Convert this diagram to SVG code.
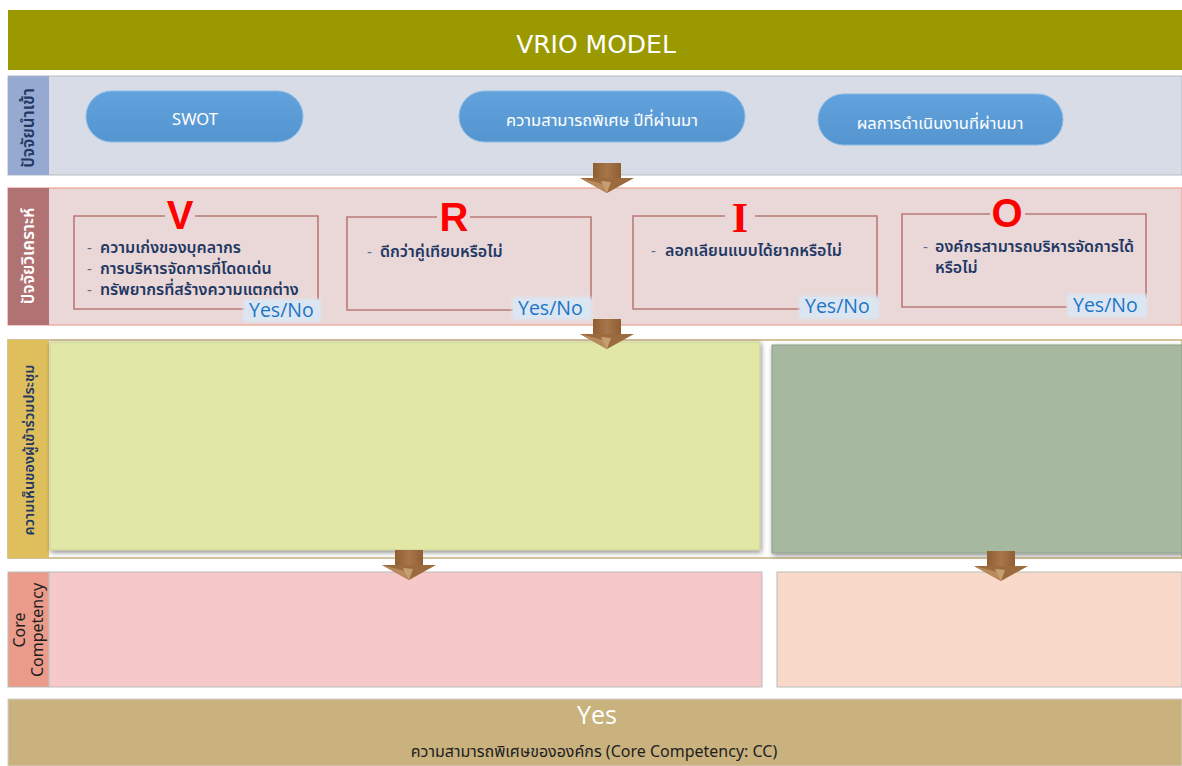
<svg xmlns="http://www.w3.org/2000/svg" width="1182" height="766" viewBox="0 0 1182 766">
  <style>
    .th { font-family: Tahoma, "Noto Sans Thai", "Noto Sans", "DejaVu Sans", sans-serif; }
    .pilltxt { font-size: 16.5px; fill: #FFFFFF; text-anchor: middle; }
    .item { font-size: 16px; fill: #1F3864; font-weight: 600; }
    .dash { font-size: 15px; fill: #5A6A8A; }
    .yn { font-family: "Open Sans", "Liberation Sans", sans-serif; font-size: 19.5px; fill: #1B75C6; }
    .side { text-anchor: middle; font-weight: 600; }
    .box { fill: none; stroke: #B97B78; stroke-width: 1.6; }
    .letter { font-weight: bold; fill: #FF0000; text-anchor: middle; }
    .arrow-body { fill: #9C6B3D; }
  </style>
  <defs>
    <linearGradient id="pillGrad" x1="0" y1="0" x2="0" y2="1">
      <stop offset="0" stop-color="#62A3DD"/>
      <stop offset="0.55" stop-color="#5B9BD5"/>
      <stop offset="1" stop-color="#5495D0"/>
    </linearGradient>
    <linearGradient id="arrowGrad" x1="0" y1="0" x2="1" y2="0">
      <stop offset="0" stop-color="#8E5F33"/>
      <stop offset="0.5" stop-color="#A7754A"/>
      <stop offset="1" stop-color="#8E5F33"/>
    </linearGradient>
    <filter id="soft" x="-5%" y="-5%" width="110%" height="110%">
      <feGaussianBlur in="SourceAlpha" stdDeviation="2.5"/>
      <feOffset dx="1" dy="2"/>
      <feComponentTransfer><feFuncA type="linear" slope="0.45"/></feComponentTransfer>
      <feMerge><feMergeNode/><feMergeNode in="SourceGraphic"/></feMerge>
    </filter>
    <filter id="glow" x="-10%" y="-20%" width="120%" height="140%">
      <feGaussianBlur stdDeviation="1.5"/>
    </filter>
    <g id="arrow">
      <rect x="-14" y="0" width="28" height="15" fill="url(#arrowGrad)"/>
      <polygon points="-27,15 27,15 0,30" class="arrow-body"/>
      <polygon points="-27,15 0,30 -4,21" fill="#B88A5E"/>
      <polygon points="-6,18 0,30 4,19" fill="#D9B48C" opacity="0.7"/>
    </g>
  </defs>

  <rect width="1182" height="766" fill="#FFFFFF"/>

  <!-- Title -->
  <g id="title">
    <rect x="8" y="10" width="1174" height="60" fill="#9B9900"/>
    <text x="596" y="53" font-family="Tahoma, 'DejaVu Sans', sans-serif" font-size="25" fill="#FFFFFF" text-anchor="middle">VRIO MODEL</text>
  </g>

  <!-- Row 1: inputs -->
  <g id="row-inputs">
    <rect x="8" y="76" width="1174" height="99" fill="#D8DCE6" stroke="#B9BBC2" stroke-width="1"/>
    <rect x="8" y="76" width="41" height="99" fill="#95A9D1"/>
    <text class="th side" transform="translate(34,128) rotate(-90)" fill="#1F3864" font-size="17">ปัจจัยนำเข้า</text>
  </g>
  <g id="pill-swot">
    <rect x="86" y="91" width="217" height="51" rx="25.5" fill="url(#pillGrad)" stroke="#8DBCE6" stroke-width="1"/>
    <text class="th pilltxt" x="195" y="125">SWOT</text>
  </g>
  <g id="pill-capability">
    <rect x="459" y="91" width="286" height="51" rx="25.5" fill="url(#pillGrad)" stroke="#8DBCE6" stroke-width="1"/>
    <text class="th pilltxt" x="602" y="126">ความสามารถพิเศษ ปีที่ผ่านมา</text>
  </g>
  <g id="pill-performance">
    <rect x="818" y="94" width="245" height="51" rx="25.5" fill="url(#pillGrad)" stroke="#8DBCE6" stroke-width="1"/>
    <text class="th pilltxt" x="940" y="129">ผลการดำเนินงานที่ผ่านมา</text>
  </g>

  <!-- Row 2: analysis -->
  <g id="row-analysis">
    <rect x="8" y="188" width="1174" height="137" fill="#EAD7D7" stroke="#E9A092" stroke-width="1.2"/>
    <rect x="8" y="188" width="41" height="137" fill="#B07272"/>
    <text class="th side" transform="translate(34,256) rotate(-90)" fill="#FFFFFF" font-size="17">ปัจจัยวิเคราะห์</text>
  </g>

  <g id="box-v">
    <path class="box" d="M165,216 H74 V309 H245 M318,300 V216 H195"/>
    <text class="letter" x="180" y="229" font-family="'Liberation Sans', Arial, sans-serif" font-size="40">V</text>
    <text class="th dash" x="87" y="253">-</text>
    <text class="th item" x="100" y="253">ความเก่งของบุคลากร</text>
    <text class="th dash" x="87" y="274">-</text>
    <text class="th item" x="100" y="274">การบริหารจัดการที่โดดเด่น</text>
    <text class="th dash" x="87" y="295">-</text>
    <text class="th item" x="100" y="295">ทรัพยากรที่สร้างความแตกต่าง</text>
    <rect x="243" y="299" width="78" height="23" fill="#DCE6F2" filter="url(#glow)"/>
    <text class="yn" x="249" y="317">Yes/No</text>
  </g>

  <g id="box-r">
    <path class="box" d="M437,217 H347 V310 H513 M591,300 V217 H470"/>
    <text class="letter" x="454" y="231" font-family="'Liberation Sans', Arial, sans-serif" font-size="40">R</text>
    <text class="th dash" x="367" y="257">-</text>
    <text class="th item" x="380" y="257">ดีกว่าคู่เทียบหรือไม่</text>
    <rect x="512" y="297" width="80" height="23" fill="#DCE6F2" filter="url(#glow)"/>
    <text class="yn" x="518" y="315">Yes/No</text>
  </g>

  <g id="box-i">
    <path class="box" d="M725,216 H633 V309 H800 M877,300 V216 H755"/>
    <text class="letter" x="740" y="232" font-family="'Liberation Serif', 'Times New Roman', serif" font-size="42">I</text>
    <text class="th dash" x="651" y="256">-</text>
    <text class="th item" x="665" y="256">ลอกเลียนแบบได้ยากหรือไม่</text>
    <rect x="799" y="296" width="80" height="23" fill="#DCE6F2" filter="url(#glow)"/>
    <text class="yn" x="805" y="313">Yes/No</text>
  </g>

  <g id="box-o">
    <path class="box" d="M990,214 H902 V307 H1067 M1146,298 V214 H1025"/>
    <text class="letter" x="1007" y="227" font-family="'Liberation Sans', Arial, sans-serif" font-size="40">O</text>
    <text class="th dash" x="923" y="252">-</text>
    <text class="th item" x="935" y="252">องค์กรสามารถบริหารจัดการได้</text>
    <text class="th item" x="935" y="273">หรือไม่</text>
    <rect x="1067" y="294" width="80" height="23" fill="#DCE6F2" filter="url(#glow)"/>
    <text class="yn" x="1073" y="312">Yes/No</text>
  </g>

  <!-- Row 3: participant opinions -->
  <g id="row-opinions">
    <rect x="8" y="340" width="1174" height="218" fill="#FFFFFF" stroke="#C5B07A" stroke-width="1.5"/>
    <rect x="8" y="340" width="41" height="218" fill="#DFBF5C"/>
    <text class="th side" transform="translate(34,450) rotate(-90)" fill="#1F3864" font-size="14.5">ความเห็นของผู้เข้าร่วมประชุม</text>
  </g>
  <g id="opinion-yes">
    <rect x="50" y="342" width="710" height="208" fill="#E1E8A5" stroke="#C9CE96" stroke-width="1" filter="url(#soft)"/>
  </g>
  <g id="opinion-no">
    <rect x="772" y="345" width="410" height="208" fill="#A6B9A0" stroke="#8E9E8A" stroke-width="1" filter="url(#soft)"/>
  </g>

  <!-- Row 4: core competency -->
  <g id="row-core">
    <rect x="8" y="572" width="41" height="115" fill="#EB9B8A" stroke="#BBBBBB" stroke-width="1"/>
    <text class="th" transform="translate(25,630) rotate(-90)" font-size="16" fill="#1E1E1E" text-anchor="middle">Core</text>
    <text class="th" transform="translate(43,630) rotate(-90)" font-size="16" fill="#1E1E1E" text-anchor="middle">Competency</text>
  </g>
  <g id="core-yes">
    <rect x="49" y="572" width="713" height="115" fill="#F6C8C8" stroke="#BBBBBB" stroke-width="1"/>
  </g>
  <g id="core-no">
    <rect x="777" y="572" width="405" height="115" fill="#F9D9C9" stroke="#BBBBBB" stroke-width="1"/>
  </g>

  <!-- Row 5: result -->
  <g id="result">
    <rect x="8" y="699" width="1174" height="67" fill="#C9B27E" stroke="#D0D0D0" stroke-width="1"/>
    <text x="597" y="724" font-family="'Open Sans', 'Liberation Sans', sans-serif" font-size="25" fill="#FFFFFF" text-anchor="middle">Yes</text>
    <text class="th" x="594" y="757" font-size="16" fill="#1E1E1E" text-anchor="middle">ความสามารถพิเศษขององค์กร (Core Competency: CC)</text>
  </g>

  <!-- Connectors -->
  <g id="connectors">
    <use href="#arrow" x="607" y="163"/>
    <use href="#arrow" x="607" y="319"/>
    <use href="#arrow" x="409" y="550"/>
    <use href="#arrow" x="1001" y="551"/>
  </g>
</svg>
